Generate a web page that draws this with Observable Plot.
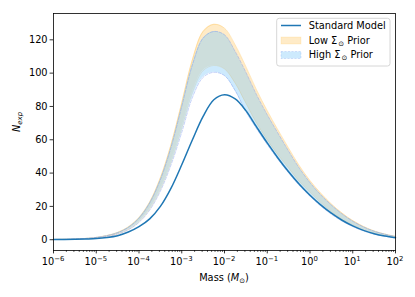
<!DOCTYPE html>
<html><head><meta charset="utf-8">
<script src="https://cdn.jsdelivr.net/npm/d3@7"></script>
<script src="https://cdn.jsdelivr.net/npm/@observablehq/plot@0.6"></script>
<style>
html,body{margin:0;padding:0;background:#fff;}
#chart svg{display:block;}
</style></head><body><div id="chart"></div>
<script>
// log10 of mass (in solar masses)
const logMass = [-6,-5.75,-5.5,-5.25,-5,-4.75,-4.5,-4.25,-4,-3.75,-3.5,-3.25,-3,-2.75,-2.5,-2.25,-2,-1.75,-1.5,-1.25,-1,-0.75,-0.5,-0.25,0,0.25,0.5,0.75,1,1.25,1.5,1.75,2];
const standardModel = [0.1,0.15,0.25,0.45,0.7,1.3,2.4,4.6,7.8,12.5,20,31,45,60,74,84,87,84.5,77.5,67.7,58.1,49.1,40.8,33.3,26.7,20.9,15.9,11.7,8.3,5.6,3.6,2.2,1.2];
const lowUpper  = [0.15,0.25,0.45,0.8,1.4,2.5,4.3,7.6,13.2,22.5,37,57,82,108,125,129.3,127,117,104,90,77.5,66,55,44.5,35.5,28,21.5,16,11.5,8,5.3,3.4,2];
const lowLower  = [0.12,0.2,0.37,0.66,1.15,2.05,3.5,6.2,10.8,18.5,30.3,46.7,67,88.5,101.5,104.6,102.5,94,82,70,60,51,43,35,28.5,22.3,16.8,12.3,8.8,6.1,4.1,2.6,1.5];
const highUpper = [0.15,0.24,0.44,0.78,1.37,2.44,4.2,7.4,12.9,22,36,55.5,80,105,121,125,123,113,100.5,87,75,64,53.2,43,34.3,27,20.8,15.5,11.1,7.7,5.1,3.3,1.9];
const highLower = [0.11,0.19,0.35,0.63,1.1,1.97,3.4,6,10.4,17.8,29.2,45,64.5,85.5,97.5,100.5,98.5,89.5,77,66.7,57.2,48.3,40.1,32.6,26.1,20.3,15.3,11.2,7.9,5.3,3.4,2.1,1.1];
const yTicks = [0,20,40,60,80,100,120];
const xTickExponents = [-6,-5,-4,-3,-2,-1,0,1,2];
const minorMultipliers = [2,3,4,5,6,7,8,9];

const rows = logMass.map((l, i) => ({
  m: Math.pow(10, l), s: standardModel[i],
  lu: lowUpper[i], ll: lowLower[i], hu: highUpper[i], hl: highLower[i]
}));
const majorTicks = xTickExponents.map(e => Math.pow(10, e));
const minorTicks = [];
xTickExponents.slice(0, -1).forEach(e => minorMultipliers.forEach(k => minorTicks.push(k * Math.pow(10, e))));

const FONT = "DejaVu Sans, sans-serif";
const FS = 9.8;
const curve = "catmull-rom";

const plot = Plot.plot({
  width: 415, height: 297,
  marginLeft: 53, marginRight: 20, marginTop: 13, marginBottom: 47,
  style: {fontFamily: FONT, fontSize: FS + "px", color: "black", background: "white"},
  x: {type: "log", domain: [1e-6, 1e2], label: null},
  y: {domain: [-6.47, 135.8], label: null},
  marks: [
    Plot.areaY(rows, {x: "m", y1: "ll", y2: "lu", fill: "#ffa500", fillOpacity: 0.22, curve}),
    Plot.line(rows, {x: "m", y: "lu", stroke: "#ffa500", strokeOpacity: 0.22, strokeWidth: 1, curve}),
    Plot.line(rows, {x: "m", y: "ll", stroke: "#ffa500", strokeOpacity: 0.22, strokeWidth: 1, curve}),
    Plot.areaY(rows, {x: "m", y1: "hl", y2: "hu", fill: "#87cefa", fillOpacity: 0.42, curve}),
    Plot.line(rows, {x: "m", y: "hu", stroke: "#6f8ff0", strokeOpacity: 0.4, strokeWidth: 1, strokeDasharray: "3,1.5", curve}),
    Plot.line(rows, {x: "m", y: "hl", stroke: "#6f8ff0", strokeOpacity: 0.4, strokeWidth: 1, strokeDasharray: "3,1.5", curve}),
    Plot.line(rows, {x: "m", y: "s", stroke: "#1f77b4", strokeWidth: 1.5, curve}),
    Plot.axisX({ticks: minorTicks, tickSize: 2, tickFormat: () => "", strokeWidth: 0.6, label: null}),
    Plot.axisX({ticks: majorTicks, tickSize: 3.4, tickFormat: () => "", strokeWidth: 0.8, label: null}),
    Plot.axisY({ticks: yTicks, tickSize: 3.4, tickPadding: 2.5, strokeWidth: 0.8, label: null}),
    Plot.frame({stroke: "black", strokeWidth: 0.8})
  ]
});
document.getElementById("chart").appendChild(plot);

const svg = d3.select(plot);
const xs = plot.scale("x");

// x tick labels with superscripts
xTickExponents.forEach(e => {
  const t = svg.append("text")
    .attr("x", xs.apply(Math.pow(10, e))).attr("y", 265)
    .attr("text-anchor", "middle").attr("font-family", FONT)
    .attr("font-size", FS + "px").attr("fill", "black");
  t.append("tspan").text("10");
  t.append("tspan").attr("dy", -3.6).attr("font-size", (FS * 0.7) + "px")
    .text(e < 0 ? "\u2212" + (-e) : String(e));
});

// x label
const xl = svg.append("text").attr("x", 224).attr("y", 281)
  .attr("text-anchor", "middle").attr("font-family", FONT)
  .attr("font-size", FS + "px").attr("fill", "black");
xl.append("tspan").text("Mass (");
xl.append("tspan").attr("font-style", "italic").text("M");
xl.append("tspan").attr("dy", 2).attr("font-size", (FS * 0.7) + "px").text("\u2299");
xl.append("tspan").attr("dy", -2).text(")");

// y label
const yl = svg.append("text").attr("transform", "translate(19.5,122) rotate(-90)")
  .attr("text-anchor", "middle").attr("font-family", FONT)
  .attr("font-size", FS + "px").attr("fill", "black");
yl.append("tspan").attr("font-style", "italic").text("N");
yl.append("tspan").attr("font-style", "italic").attr("dy", 2.2).attr("font-size", (FS * 0.7) + "px").text("exp");

// legend
const lg = svg.append("g").attr("font-family", FONT).attr("font-size", FS + "px").attr("text-anchor", "start");
lg.append("rect").attr("x", 276.7).attr("y", 18.3).attr("width", 113.3).attr("height", 47.7)
  .attr("rx", 2.5).attr("fill", "white").attr("fill-opacity", 0.8)
  .attr("stroke", "#cccccc").attr("stroke-width", 0.8);
lg.append("line").attr("x1", 281).attr("x2", 301).attr("y1", 25.5).attr("y2", 25.5)
  .attr("stroke", "#1f77b4").attr("stroke-width", 1.5);
lg.append("rect").attr("x", 281).attr("y", 37).attr("width", 20).attr("height", 7)
  .attr("fill", "#ffa500").attr("fill-opacity", 0.22)
  .attr("stroke", "#ffa500").attr("stroke-opacity", 0.15).attr("stroke-width", 0.8);
lg.append("rect").attr("x", 281).attr("y", 51.5).attr("width", 20).attr("height", 7)
  .attr("fill", "#87cefa").attr("fill-opacity", 0.42)
  .attr("stroke", "#6f8ff0").attr("stroke-opacity", 0.3).attr("stroke-width", 0.8)
  .attr("stroke-dasharray", "2,1.5");
const legendLabels = ["Standard Model", "Low ", "High "];
const legendY = [29, 43.5, 58];
legendLabels.forEach((lab, i) => {
  const t = lg.append("text").attr("x", 308.7).attr("y", legendY[i])
    .attr("fill", "black").attr("text-anchor", "start");
  t.append("tspan").text(lab);
  if (i > 0) {
    t.append("tspan").text("\u03A3");
    t.append("tspan").attr("dy", 2).attr("dx", 1).attr("font-size", (FS * 0.7) + "px").text("\u2299");
    t.append("tspan").attr("dy", -2).text(" Prior");
  }
});
</script></body></html>
